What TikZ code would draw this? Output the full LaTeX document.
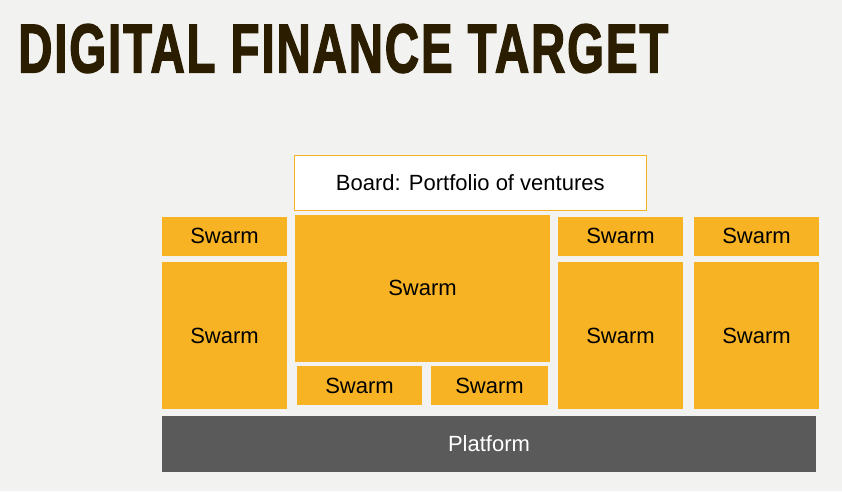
\documentclass[tikz,border=0pt]{standalone}
\usepackage{fontspec}
\setmainfont{Liberation Sans}
\newfontfamily\titlefont[BoldFeatures={FakeBold=2.5}, LetterSpace=4]{Liberation Sans}
\definecolor{bgGrey}{HTML}{F2F2F0}
\definecolor{swarmOrange}{HTML}{F7B324}
\definecolor{platformGrey}{HTML}{5A5A5A}
\definecolor{titleBrown}{HTML}{2B1D00}
\tikzset{
  swarm/.style={rectangle, fill=swarmOrange, inner sep=0pt, font=\fontsize{22}{26}\selectfont},
  board/.style={rectangle, fill=white, draw=swarmOrange, line width=1pt, inner sep=0pt, font=\fontsize{22}{26}\selectfont},
  platform/.style={rectangle, fill=platformGrey, text=white, inner sep=0pt, font=\fontsize{22}{26}\selectfont}
}
\begin{document}
\begin{tikzpicture}[x=1pt, y=-1pt]
  % background and size
  \fill[bgGrey] (0,0) rectangle (842,491);
  \useasboundingbox (0,0) rectangle (842,491);

  % title
  \node[anchor=north west, inner sep=0pt, text=titleBrown] (title) at (18,24)
    {\resizebox{650pt}{48pt}{\titlefont\bfseries DIGITAL FINANCE TARGET}};

  % board on top
  \node[board, minimum width=352pt, minimum height=55pt] (board) at (470.3,183) {Board: Portfolio of ventures};

  % left column
  \node[swarm, minimum width=125pt, minimum height=39pt] (s1) at (224.5,236) {Swarm};
  \node[swarm, minimum width=125pt, minimum height=147pt] (s2) at (224.5,335.5) {Swarm};

  % middle block
  \node[swarm, minimum width=255pt, minimum height=147pt] (s3) at (422.5,288.3) {Swarm};
  \node[swarm, minimum width=125pt, minimum height=39pt] (s4) at (359.5,385.5) {Swarm};
  \node[swarm, minimum width=117pt, minimum height=39pt] (s5) at (489.5,385.5) {Swarm};

  % right columns
  \node[swarm, minimum width=125pt, minimum height=39pt] (s6) at (620.5,236) {Swarm};
  \node[swarm, minimum width=125pt, minimum height=147pt] (s7) at (620.5,335.5) {Swarm};
  \node[swarm, minimum width=125pt, minimum height=39pt] (s8) at (756.5,236) {Swarm};
  \node[swarm, minimum width=125pt, minimum height=147pt] (s9) at (756.5,335.5) {Swarm};

  % platform at the bottom
  \node[platform, minimum width=654pt, minimum height=56pt] (platform) at (489,444) {Platform};
\end{tikzpicture}
\end{document}
